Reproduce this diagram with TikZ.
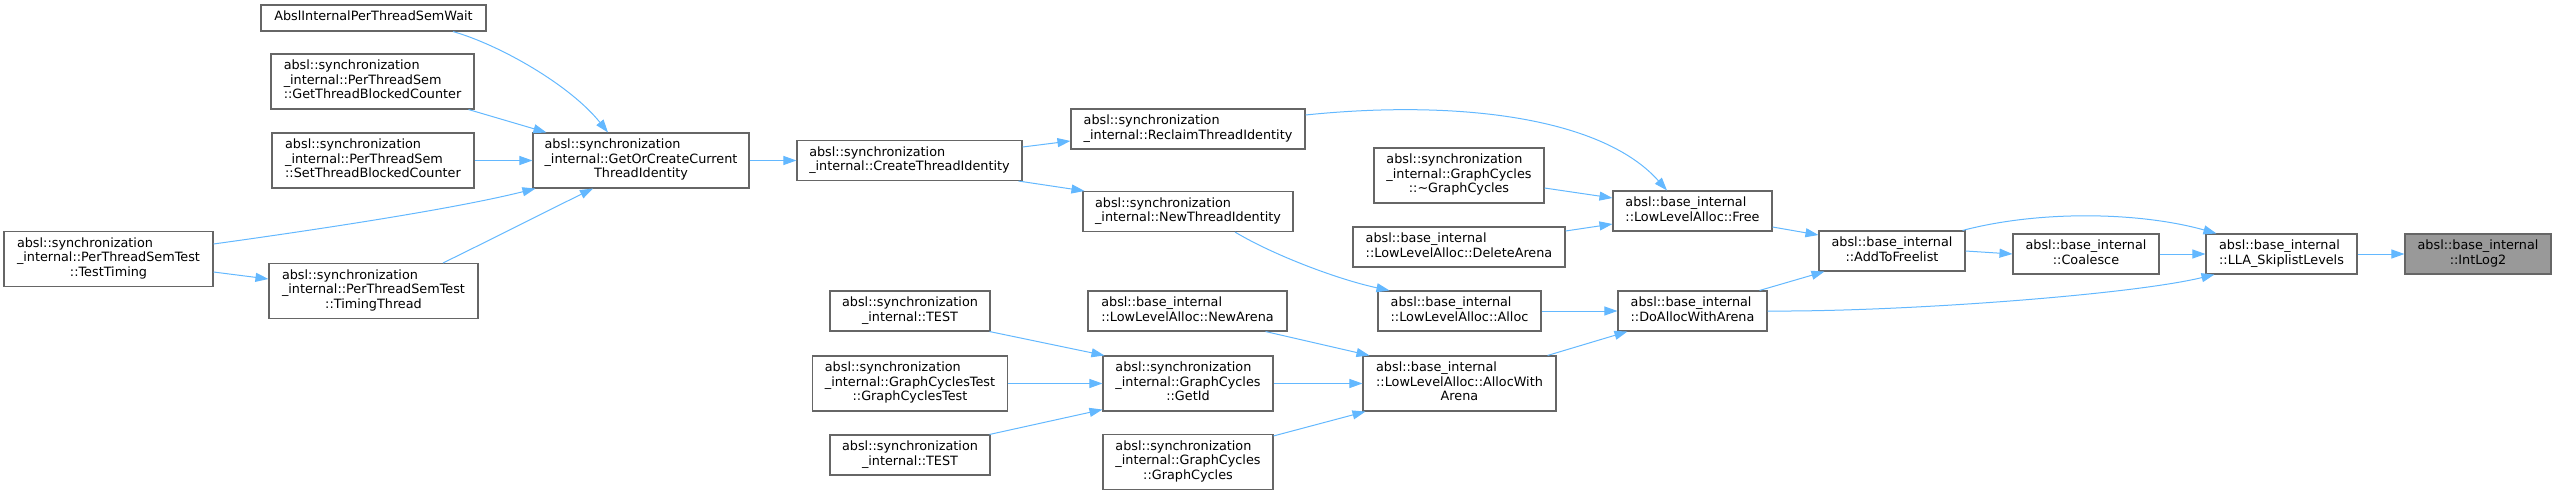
\documentclass[tikz,border=0pt]{standalone}
\usepackage{fontspec}
\setmainfont{DejaVu Sans}
\usetikzlibrary{arrows.meta}
\definecolor{edgec}{HTML}{63B8FF}
\definecolor{boxc}{HTML}{666666}
\definecolor{hlc}{HTML}{999999}
\newcommand{\onel}[1]{\begin{tabular}{@{}c@{}}#1\end{tabular}}
\newcommand{\twol}[2]{\begin{tabular}{@{}l@{}}#1\\\multicolumn{1}{@{}c@{}}{#2}\end{tabular}}
\newcommand{\threel}[3]{\begin{tabular}{@{}l@{}}#1\\#2\\\multicolumn{1}{@{}c@{}}{#3}\end{tabular}}
\newcommand{\ASI}{absl::synchronization}
\newcommand{\ABI}{absl::base\_internal}
\begin{document}
\begin{tikzpicture}[x=1pt,y=-1pt,
  fn/.style={draw=boxc, fill=white, line width=1.1pt, inner xsep=2pt, inner ysep=0pt,
    font=\fontsize{12.8pt}{14.5pt}\selectfont, text=black},
  hone/.style={minimum height=26pt},
  htwo/.style={minimum height=40pt},
  hthree/.style={minimum height=55pt},
  ed/.style={draw=edgec, line width=1pt, -{Triangle[length=13pt,width=9pt]}}
]
\useasboundingbox (0,0) rectangle (2556,495);

% column 1-2
\node[fn,hone,minimum width=225pt] (wait) at (373.5,18) {\onel{AbslInternalPerThreadSemWait}};
\node[fn,hthree,minimum width=203pt] (getblk) at (372.5,81.5) {\threel{\ASI}{\_internal::PerThreadSem}{::GetThreadBlockedCounter}};
\node[fn,hthree,minimum width=202pt] (setblk) at (373,160.5) {\threel{\ASI}{\_internal::PerThreadSem}{::SetThreadBlockedCounter}};
\node[fn,hthree,minimum width=209pt] (testtiming) at (108.5,259) {\threel{\ASI}{\_internal::PerThreadSemTest}{::TestTiming}};
\node[fn,hthree,minimum width=209pt] (timingthread) at (373.5,291) {\threel{\ASI}{\_internal::PerThreadSemTest}{::TimingThread}};
\node[fn,hthree,minimum width=216pt] (goc) at (641,160.5) {\threel{\ASI}{\_internal::GetOrCreateCurrent}{ThreadIdentity}};

% column 4
\node[fn,htwo,minimum width=225pt] (create) at (909.5,160.5) {\twol{\ASI}{\_internal::CreateThreadIdentity}};
\node[fn,htwo,minimum width=160pt] (test1) at (910,311) {\twol{\ASI}{\_internal::TEST}};
\node[fn,hthree,minimum width=195pt] (gctest) at (910,383.5) {\threel{\ASI}{\_internal::GraphCyclesTest}{::GraphCyclesTest}};
\node[fn,htwo,minimum width=160pt] (test2) at (910,455) {\twol{\ASI}{\_internal::TEST}};

% column 5
\node[fn,htwo,minimum width=234pt] (reclaim) at (1188,129) {\twol{\ASI}{\_internal::ReclaimThreadIdentity}};
\node[fn,htwo,minimum width=210pt] (newthread) at (1188,211.5) {\twol{\ASI}{\_internal::NewThreadIdentity}};
\node[fn,htwo,minimum width=199pt] (newarena) at (1187.5,311) {\twol{\ABI}{::LowLevelAlloc::NewArena}};
\node[fn,hthree,minimum width=170pt] (getid) at (1188,383.5) {\threel{\ASI}{\_internal::GraphCycles}{::GetId}};
\node[fn,hthree,minimum width=170pt] (gcctor) at (1188,462) {\threel{\ASI}{\_internal::GraphCycles}{::GraphCycles}};

% column 6
\node[fn,hthree,minimum width=170pt] (dtor) at (1459,175.5) {\threel{\ASI}{\_internal::GraphCycles}{::\textasciitilde GraphCycles}};
\node[fn,htwo,minimum width=212pt] (delarena) at (1459,247) {\twol{\ABI}{::LowLevelAlloc::DeleteArena}};
\node[fn,htwo,minimum width=163pt] (alloc) at (1459.5,311) {\twol{\ABI}{::LowLevelAlloc::Alloc}};
\node[fn,hthree,minimum width=193pt] (allocwith) at (1459.5,383.5) {\threel{\ABI}{::LowLevelAlloc::AllocWith}{Arena}};

% column 7
\node[fn,htwo,minimum width=159pt] (free) at (1692.5,211) {\twol{\ABI}{::LowLevelAlloc::Free}};
\node[fn,htwo,minimum width=149pt] (doalloc) at (1692.5,311) {\twol{\ABI}{::DoAllocWithArena}};

% right part
\node[fn,htwo,minimum width=146pt] (addfree) at (1892,251) {\twol{\ABI}{::AddToFreelist}};
\node[fn,htwo,minimum width=146pt] (coalesce) at (2086,254) {\twol{\ABI}{::Coalesce}};
\node[fn,htwo,minimum width=151pt] (lla) at (2281.5,254) {\twol{\ABI}{::LLA\_SkiplistLevels}};
\node[fn,htwo,minimum width=146pt,fill=hlc] (intlog2) at (2478,254) {\twol{\ABI}{::IntLog2}};

% edges into GetOrCreateCurrentThreadIdentity
\draw[ed] ([xshift=79.5pt]wait.south) .. controls (500,45) and (570,85) .. ([xshift=-33pt]goc.north);
\draw[ed] ([xshift=-6pt]getblk.south east) -- ([xshift=14pt]goc.north west);
\draw[ed] (setblk.east) -- (goc.west);
\draw[ed] ([yshift=15pt]testtiming.east) .. controls (300,232) and (450,210) .. ([xshift=3pt]goc.south west);
\draw[ed] ([xshift=69.5pt]timingthread.north) .. controls (490,240) and (545,212) .. ([xshift=-48pt]goc.south);
\draw[ed] ([yshift=-13pt]testtiming.east) -- ([yshift=12pt]timingthread.west);

\draw[ed] (goc.east) -- (create.west);
\draw[ed] ([yshift=13.5pt]create.east) -- ([yshift=-12pt]reclaim.west);
\draw[ed] ([xshift=-4pt]create.south east) -- ([xshift=2pt]newthread.north west);

\draw[ed] ([yshift=14pt]reclaim.east) .. controls (1450,100) and (1600,115) .. ([xshift=-25.5pt]free.north);
\draw[ed] ([yshift=-12.5pt]dtor.east) -- ([yshift=13pt]free.west);
\draw[ed] ([yshift=16pt]delarena.east) -- ([yshift=-13pt]free.west);
\draw[ed] ([xshift=47pt]newthread.south) .. controls (1275,256) and (1340,280) .. ([xshift=12pt]alloc.north west);
\draw[ed] (alloc.east) -- (doalloc.west);
\draw[ed] ([xshift=-9pt]allocwith.north east) -- ([xshift=10pt]doalloc.south west);

\draw[ed] ([yshift=-16pt]free.east) -- ([yshift=16pt]addfree.west);
\draw[ed] ([xshift=-8pt]doalloc.north east) -- ([xshift=6pt]addfree.south west);
\draw[ed] (doalloc.east) .. controls (1900,312) and (2130,295) .. ([xshift=9pt]lla.south west);
\draw[ed] (addfree.east) -- (coalesce.west);
\draw[ed] ([xshift=-3pt]addfree.north east) .. controls (2040,210) and (2140,212) .. ([xshift=11pt]lla.north west);
\draw[ed] (coalesce.east) -- (lla.west);
\draw[ed] (lla.east) -- (intlog2.west);

\draw[ed] (getid.east) -- (allocwith.west);
\draw[ed] ([xshift=-22pt]newarena.south east) -- ([xshift=7pt]allocwith.north west);
\draw[ed] ([yshift=-2pt]gcctor.north east) -- ([xshift=3pt]allocwith.south west);
\draw[ed] ([xshift=-1pt]test1.south east) -- ([xshift=2pt]getid.north west);
\draw[ed] (gctest.east) -- (getid.west);
\draw[ed] ([xshift=-1pt]test2.north east) -- ([yshift=2pt]getid.south west);
\end{tikzpicture}
\end{document}
